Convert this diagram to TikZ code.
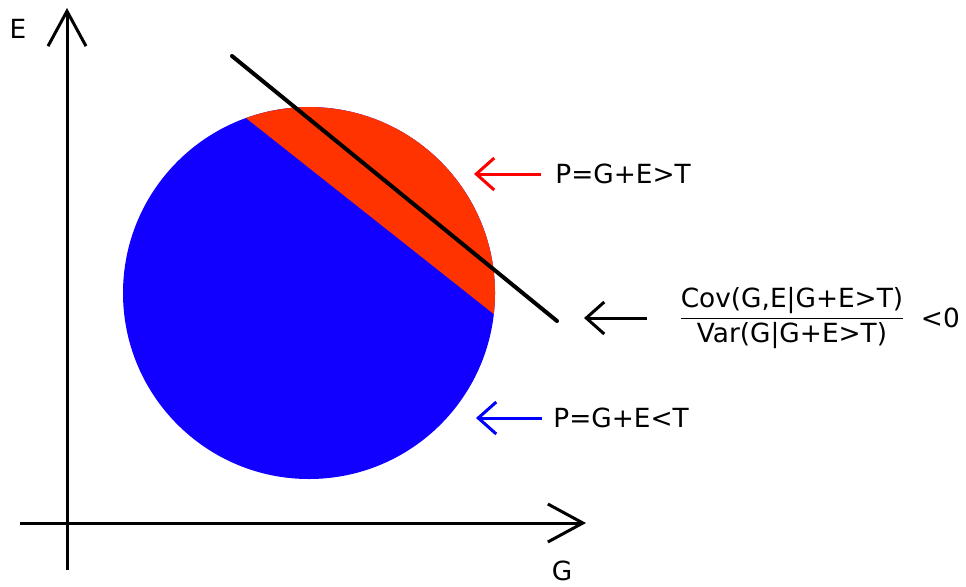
\documentclass[tikz,border=0pt]{standalone}
\usepackage{amsmath}
\usepackage{fontspec}
\setmainfont{DejaVu Sans}
\usepackage{tikz}
\usetikzlibrary{arrows.meta, positioning, calc}
\usepackage{xcolor}
\definecolor{upperred}{RGB}{255,51,0}
\definecolor{lowerblue}{RGB}{17,0,255}

\begin{document}
\begin{tikzpicture}[
  x=0.02cm, y=-0.02cm,
  axis/.style={line width=0.06cm, -{Straight Barb[length=0.7cm, width=0.76cm, line width=0.06cm]}},
  pointer/.style={line width=0.06cm, -{Straight Barb[length=0.36cm, width=0.64cm, line width=0.06cm]}},
  threshold/.style={line width=0.08cm, line cap=round},
  label/.style={inner sep=0pt, font=\fontsize{15}{18}\selectfont},
  note/.style={inner sep=0pt, anchor=west, font=\fontsize{15}{18}\selectfont}
]
\useasboundingbox (0,0) rectangle (966,586);

% population disc and the selected cap
\fill[lowerblue] (309,293) circle[radius=186];
\fill[upperred] (309,293) ++(6.5:186) arc[start angle=6.5, end angle=-109.8, radius=186] -- cycle;

% axes
\draw[axis] (67,570) -- (67,8);
\draw[axis] (20,523) -- (586,523);
\node[label] (labE) at (18,29) {E};
\node[label] (labG) at (562,571) {G};

% threshold line
\coordinate (thrA) at (232,56);
\coordinate (thrB) at (557,321);
\draw[threshold] (thrA) -- (thrB);

% annotations
\coordinate (tipRed) at (474,174);
\coordinate (tipCov) at (584,318);
\coordinate (tipBlue) at (476,418);
\node[note] (above) at (555,174) {P=G+E>T};
\node[note] (below) at (553,418) {P=G+E<T};
\node[inner sep=0pt, font=\fontsize{15}{18}\selectfont] (ratio) at (792,318)
  {$\dfrac{\text{Cov(G,E|G+E>T)}}{\text{Var(G|G+E>T)}}$};
\node[note, right=0.3cm of ratio] (sign) {<0};

\draw[pointer, red] ([xshift=-0.28cm]above.west) -- (tipRed);
\draw[pointer, blue] ([xshift=-0.22cm]below.west) -- (tipBlue);
\draw[pointer] ([xshift=-0.62cm]ratio.west) -- (tipCov);
\end{tikzpicture}
\end{document}
